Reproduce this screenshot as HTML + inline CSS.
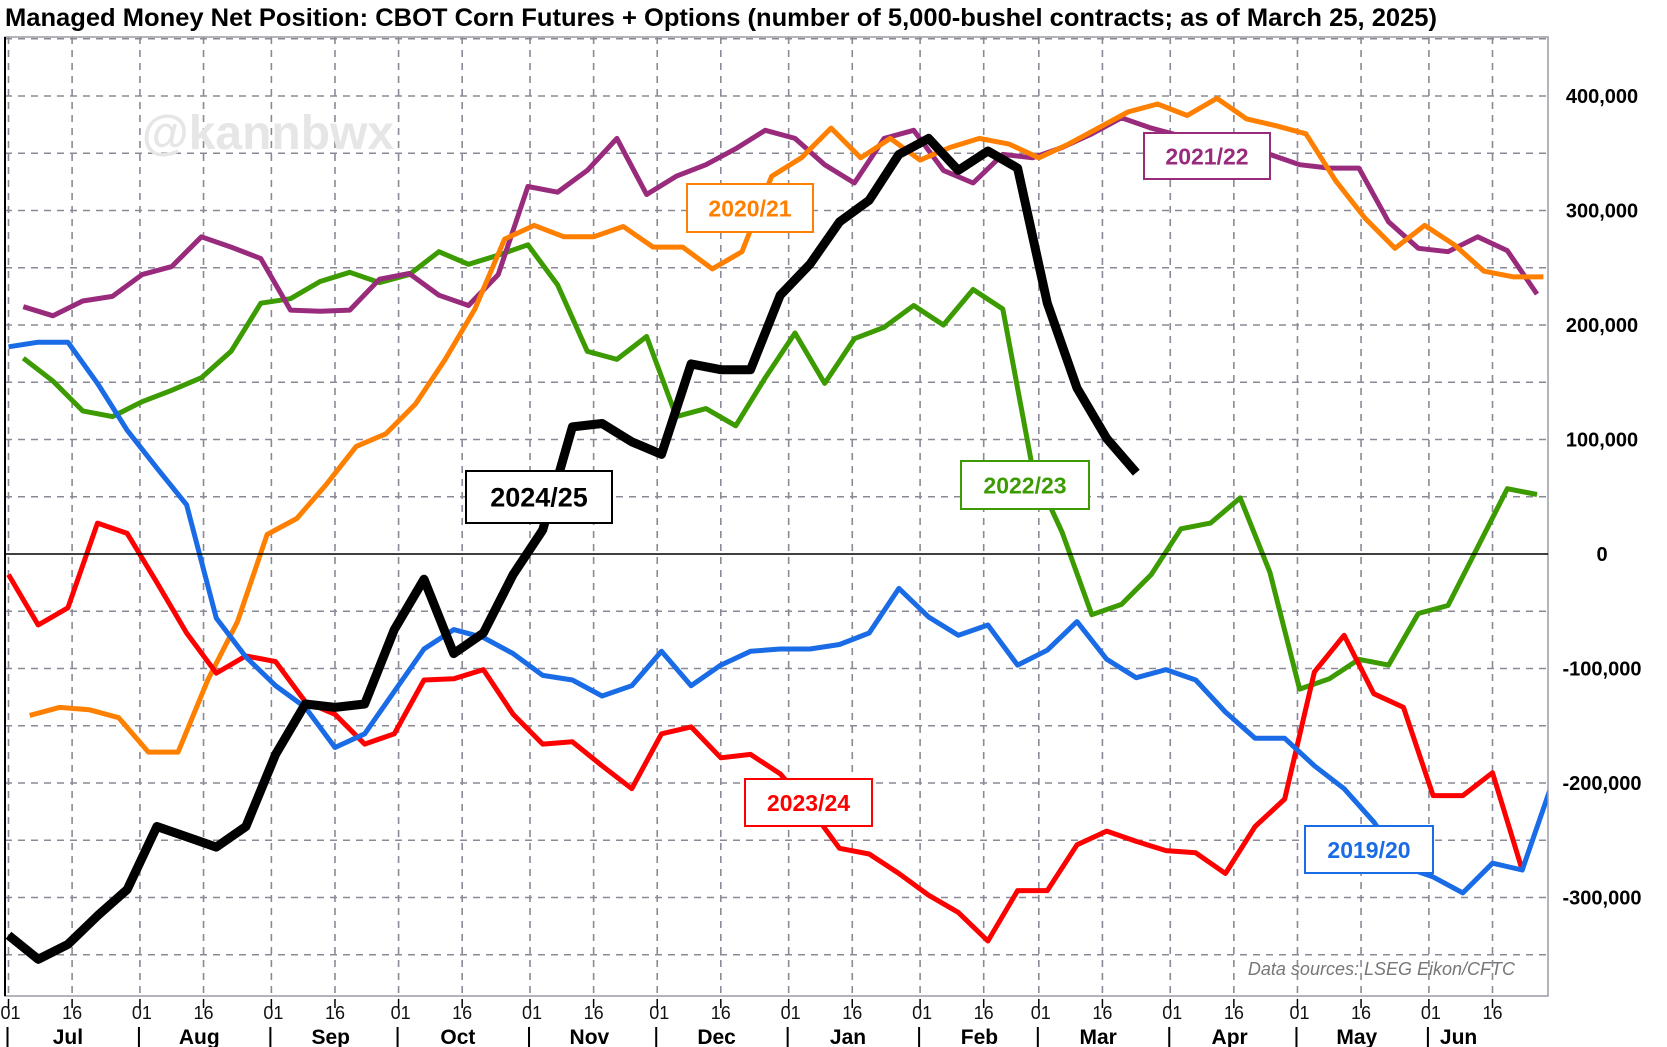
<!DOCTYPE html>
<html><head><meta charset="utf-8"><style>
body{margin:0;background:#fff;}
svg{display:block;font-family:"Liberation Sans",Arial,sans-serif;}
</style></head><body>
<svg id="chart" width="1667" height="1047" viewBox="0 0 1667 1047">
<text x="5" y="26" font-size="25" font-weight="bold" textLength="1432" lengthAdjust="spacingAndGlyphs">Managed Money Net Position: CBOT Corn Futures + Options (number of 5,000-bushel contracts; as of March 25, 2025)</text>
<g id="grid"></g>
<text x="268" y="149" font-size="48" font-weight="bold" fill="#e6e6e6" text-anchor="middle">@kannbwx</text>
<g id="series"></g>
<g id="axes"></g>
<g id="labels"></g>
<text x="1515" y="975" font-size="18" font-style="italic" fill="#777" text-anchor="end">Data sources: LSEG Eikon/CFTC</text>
</svg>
<script>
const yTicks = [400000, 300000, 200000, 100000, 0, -100000, -200000, -300000];
const yTickLabels = ["400,000","300,000","200,000","100,000","0","-100,000","-200,000","-300,000"];
const months = ["Jul","Aug","Sep","Oct","Nov","Dec","Jan","Feb","Mar","Apr","May","Jun"];
const monthStartDays = [0,31,62,92,123,153,184,215,243,274,304,335];
const seriesNames = ["2022/23","2021/22","2020/21","2023/24","2019/20","2024/25"];
const seriesStartDays = [3.5, 3.5, 5, 0, 0, 0];
const v2022 = [171,151,125,120,133,143,154,177,219,223,238,246,237,244,264,253,261,270,235,177,170,190,120,127,112,154,193,149,188,198,217,200,231,214,75,19,-53,-44,-18,22,27,49,-16,-118,-109,-92,-97,-52,-45,6,57,52];
const v2021 = [216,208,221,225,244,251,277,268,258,213,212,213,240,245,226,217,244,321,316,335,363,314,330,340,354,370,363,340,324,363,370,335,324,349,346,355,367,381,372,365,358,354,349,340,337,337,290,267,264,277,265,227];
const v2020 = [-141,-134,-136,-143,-173,-173,-110,-59,17,31,61,94,105,131,170,214,275,287,277,277,286,268,268,249,264,330,346,372,346,363,344,355,363,358,346,358,372,386,393,383,398,380,374,367,326,293,267,287,270,247,242,242];
const v2023 = [-18,-62,-47,27,18,-25,-69,-104,-89,-94,-129,-140,-166,-157,-110,-109,-101,-140,-166,-164,-185,-205,-157,-151,-178,-175,-192,-222,-257,-262,-279,-298,-313,-338,-294,-294,-254,-242,-251,-259,-261,-279,-238,-214,-103,-71,-122,-134,-211,-211,-191,-276];
const v2019 = [181,185,185,149,108,75,43,-56,-90,-115,-134,-169,-157,-120,-83,-66,-73,-87,-106,-110,-124,-115,-85,-115,-97,-85,-83,-83,-79,-69,-30,-55,-71,-62,-97,-84,-59,-92,-108,-101,-110,-138,-161,-161,-185,-205,-234,-273,-282,-296,-270,-276,-201];
const v2024 = [-333,-354,-341,-316,-293,-238,-247,-256,-238,-175,-131,-134,-131,-66,-22,-87,-69,-18,21,111,114,98,87,166,161,161,226,253,290,309,349,363,335,352,337,219,145,101,71];

const NS="http://www.w3.org/2000/svg";
const L=5,R=1548,T=37,B=996;
function X(day){return 8.5+day*4.24;}
function Y(v){return 554 - v/100000*114.5;}
function mk(tag,attrs,parent){const e=document.createElementNS(NS,tag);for(const k in attrs)e.setAttribute(k,attrs[k]);parent.appendChild(e);return e;}
const grid=document.getElementById('grid'),axes=document.getElementById('axes'),ser=document.getElementById('series'),lab=document.getElementById('labels');
for(let v=-350000; v<=450000; v+=50000){
  if(v===0) continue;
  const g=mk('line',{x1:L,x2:R,y1:Y(v),y2:Y(v),stroke:'#8a8a96','stroke-width':1.6,'stroke-dasharray':'7,6'},grid);
  
  
}
monthStartDays.forEach(d=>{
  [d,d+15].forEach((dd,j)=>{
    const gl=mk('line',{x1:X(dd),x2:X(dd),y1:T,y2:B,stroke:'#8a8a96','stroke-width':1.6,'stroke-dasharray':'7,6'},grid);
    
    
    const tk=mk('line',{x1:X(dd),x2:X(dd),y1:B+3,y2:B+12,stroke:'#000','stroke-width':1.5},axes);
    
    
    const t=mk('text',{x:X(dd)+(j?0:2),y:1019,'font-size':18,'text-anchor':'middle',fill:'#111'},axes);
    t.textContent=j?'16':'01';
    
    
  });
});
monthStartDays.forEach((d,i)=>{
  const sep=mk('line',{x1:X(d)-1,x2:X(d)-1,y1:1027,y2:1047,stroke:'#000','stroke-width':2},axes);
  
  
  const c = i<11 ? d+14 : d+7;
  const t=mk('text',{x:X(c),y:1044,'font-size':21,'font-weight':'bold','text-anchor':'middle'},axes);
  t.textContent=months[i];
  
  
});
const fr=mk('rect',{x:L,y:T,width:R-L,height:B-T,fill:'none',stroke:'#9a9aa4','stroke-width':1.5},axes);


const la=mk('line',{x1:L,x2:L,y1:T,y2:B,stroke:'#000','stroke-width':2},axes);


const zl=mk('line',{x1:L,x2:R,y1:Y(0),y2:Y(0),stroke:'#000','stroke-width':1.6},axes);


yTicks.forEach((v,i)=>{
  const t=mk('text',{x:1602,y:Y(v)+7,'font-size':20,'font-weight':'bold','text-anchor':'middle'},axes);
  t.textContent=yTickLabels[i];
  
  
});
const clip=mk('clipPath',{id:'pc'},document.getElementById('chart'));
mk('rect',{x:L,y:T,width:R-L,height:B-T},clip);
const vals=[v2022,v2021,v2020,v2023,v2019,v2024];
const colors=['#3c9b00','#992b7d','#ff8000','#ff0000','#1a6be6','#000000'];
const widths=[5,5,5,5,5,9];
vals.forEach((arr,s)=>{
  const pts=arr.map((v,i)=>X(seriesStartDays[s]+7*i).toFixed(1)+','+Y(v*1000).toFixed(1)).join(' ');
  const p=mk('polyline',{points:pts,fill:'none',stroke:colors[s],'stroke-width':widths[s],'stroke-linejoin':'round','clip-path':'url(#pc)'},ser);
  
  
});
const boxes=[
 ['2024/25',466,471,146,52,'#000',27],
 ['2022/23',961,461,128,48,'#3c9b00',23],
 ['2020/21',687,184,126,48,'#ff8000',23],
 ['2021/22',1144,133,126,46,'#992b7d',23],
 ['2023/24',745,779,127,47,'#ff0000',23],
 ['2019/20',1305,826,128,47,'#1a6be6',23]];
boxes.forEach(b=>{
  const g=mk('g',{},lab);
  
  
  mk('rect',{x:b[1],y:b[2],width:b[3],height:b[4],fill:'#fff',stroke:b[5],'stroke-width':2},g);
  const t=mk('text',{x:b[1]+b[3]/2,y:b[2]+b[4]/2+b[6]*0.36,'font-size':b[6],'font-weight':'bold','text-anchor':'middle',fill:b[5]},g);
  t.textContent=b[0];
});
</script>
</body></html>
